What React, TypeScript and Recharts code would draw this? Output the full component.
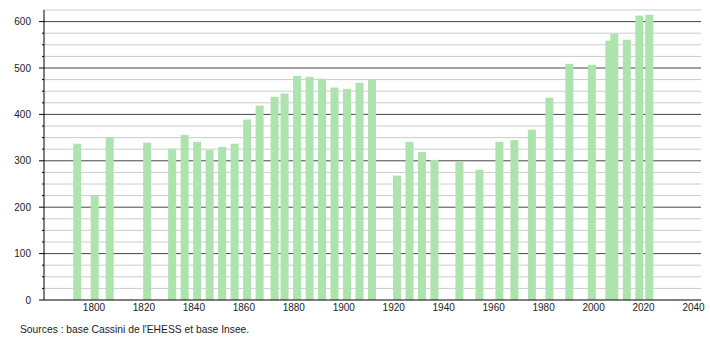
import React from "react";
import { BarChart, Bar, XAxis, YAxis, CartesianGrid } from "recharts";

const years = [1793, 1800, 1806, 1821, 1831, 1836, 1841, 1846, 1851, 1856, 1861, 1866, 1872, 1876, 1881, 1886, 1891, 1896, 1901, 1906, 1911, 1921, 1926, 1931, 1936, 1946, 1954, 1962, 1968, 1975, 1982, 1990, 1999, 2006, 2008, 2013, 2018, 2022];
const population = [337, 225, 350, 339, 326, 356, 341, 323, 330, 337, 389, 419, 438, 445, 483, 481, 477, 458, 455, 468, 475, 268, 341, 319, 302, 298, 281, 341, 345, 367, 436, 509, 507, 559, 574, 561, 613, 615];
const xTicks = [1800, 1820, 1840, 1860, 1880, 1900, 1920, 1940, 1960, 1980, 2000, 2020, 2040];
const majorValues = [100, 200, 300, 400, 500, 600];
const minorValues = [25, 50, 75, 125, 150, 175, 225, 250, 275, 325, 350, 375, 425, 450, 475, 525, 550, 575, 625];
const yTicks = [0, 25, 50, 75, 100, 125, 150, 175, 200, 225, 250, 275, 300, 325, 350, 375, 400, 425, 450, 475, 500, 525, 550, 575, 600, 625];

const data = years.map((y, i) => ({ year: y, value: population[i] }));
const FONT = '"Liberation Sans", Arial, sans-serif';

const YTick = (props: any) => {
  const { x, y, payload } = props;
  const v = payload.value;
  const major = v % 100 === 0;
  if (v === 625) return <g />;
  return (
    <g>
      <line x1={x - (major ? 5 : 2)} x2={x} y1={y} y2={y} stroke="#000" strokeWidth={1} />
      {major && (
        <text x={x - 13} y={y} dy="0.35em" textAnchor="end" fontSize={10} fill="#222" fontFamily={FONT}>
          {v}
        </text>
      )}
    </g>
  );
};

const BarShape = (props: any) => {
  const { x, y, width, height } = props;
  const cx = x + width / 2 + 1;
  return <rect x={cx - 4} y={y} width={8} height={height} fill="#ade3ad" />;
};

export default function App() {
  return (
    <div style={{ position: "absolute", left: 0, top: 0, width: 710, height: 340, background: "#fff" }}>
      <BarChart width={710} height={340} data={data} margin={{ top: 10, right: 9, bottom: 10, left: 0 }}>
        <CartesianGrid vertical={false} horizontalValues={minorValues} stroke="#cccccc" strokeWidth={1} />
        <CartesianGrid vertical={false} horizontalValues={majorValues} stroke="#444444" strokeWidth={1} />
        <XAxis
          dataKey="year"
          type="number"
          domain={[1780, 2043]}
          ticks={xTicks}
          allowDataOverflow
          tickLine={false}
          tickSize={0}
          tickMargin={4}
          height={30}
          axisLine={{ stroke: "#000", strokeWidth: 1 }}
          tick={{ fontSize: 10, fill: "#222", fontFamily: FONT }}
          interval={0}
        />
        <YAxis
          type="number"
          domain={[0, 625]}
          ticks={yTicks}
          allowDataOverflow
          width={44}
          tickLine={false}
          tickSize={0}
          tickMargin={0}
          axisLine={{ stroke: "#000", strokeWidth: 1 }}
          tick={<YTick />}
          interval={0}
        />
        <Bar dataKey="value" barSize={8} isAnimationActive={false} shape={<BarShape />} />
      </BarChart>
      <div style={{ position: "absolute", left: 20, top: 324, fontSize: 10.3, lineHeight: "12px", fontFamily: FONT, color: "#222", whiteSpace: "nowrap" }}>
        Sources : base Cassini de l'EHESS et base Insee.
      </div>
    </div>
  );
}
